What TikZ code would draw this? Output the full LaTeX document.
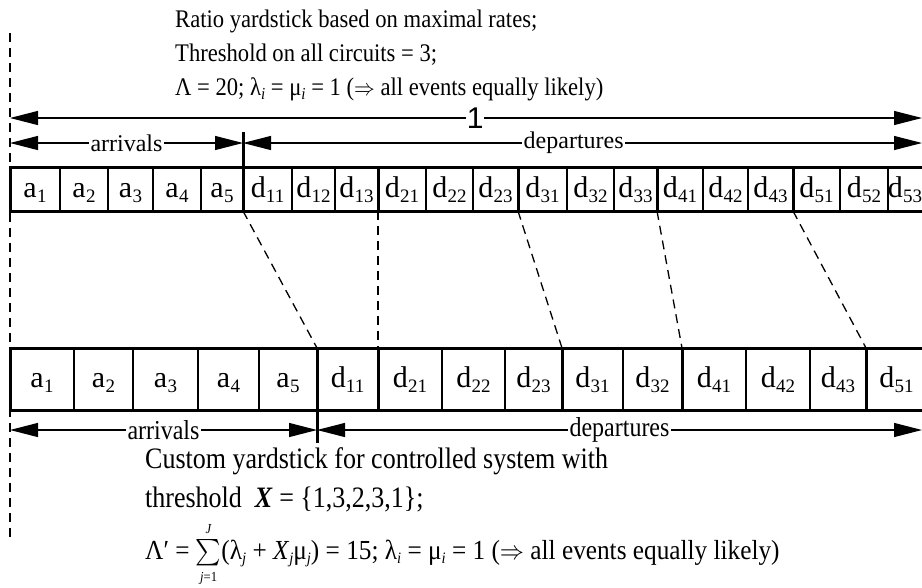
\documentclass[tikz,border=0pt]{standalone}
\usepackage{amsmath}
\usepackage{exscale}
\usepackage{graphicx}
\usepackage{fontspec}
\setmainfont{Liberation Serif}
\newfontfamily\sansf{Liberation Sans}
\usetikzlibrary{arrows.meta}
\newcommand\cl[2]{#1\kern0.2pt\raisebox{-5.5pt}{\fontsize{19}{19}\selectfont #2}}
\newcommand\lsub[1]{\raisebox{-4pt}{\fontsize{15}{15}\selectfont\textit{#1}}}
\newcommand\vst[1]{\scalebox{1}[1.14]{#1}}
\newcommand\tst[1]{\scalebox{1}[1.12]{#1}}
\tikzset{
  thickln/.style={line width=3pt},
  thinln/.style={line width=1.1pt},
  dashln/.style={line width=1.3pt, dash pattern=on 9pt off 6pt},
  dimarrow/.style={line width=1.2pt, {Triangle[length=28pt,width=14pt]}-{Triangle[length=28pt,width=14pt]}},
  lbl/.style={fill=white, inner sep=1.5pt, font=\fontsize{24}{24}\selectfont},
  cell/.style={font=\fontsize{30}{30}\selectfont, inner sep=0pt, anchor=base},
  txt/.style={anchor=base west, inner sep=0pt, font=\fontsize{26}{30}\selectfont},
  ttxt/.style={anchor=base west, inner sep=0pt, font=\fontsize{22.6}{26}\selectfont}
}
\begin{document}
\begin{tikzpicture}[x=1pt,y=-1pt]
\useasboundingbox (0,0) rectangle (922,587);
\clip (0,0) rectangle (922,587);

% top caption
\node[ttxt] (c1) at (175,27) {\tst{Ratio yardstick based on maximal rates;}};
\node[ttxt] (c2) at (175,61) {\tst{Threshold on all circuits = 3;}};
\node[ttxt] (c3) at (175,95) {\tst{Λ = 20; λ\lsub{i} = μ\lsub{i} = 1 (\(\Rightarrow\) all events equally likely)}};

% top row cells
\foreach \xa/\xb/\lab in {10/60/{\cl{a}{1}},60/108/{\cl{a}{2}},108/153/{\cl{a}{3}},153/201/{\cl{a}{4}},201/243/{\cl{a}{5}},243/292/{\cl{d}{11}},292/335/{\cl{d}{12}},335/378/{\cl{d}{13}},378/426/{\cl{d}{21}},426/473/{\cl{d}{22}},473/518/{\cl{d}{23}},518/567/{\cl{d}{31}},567/614/{\cl{d}{32}},614/657/{\cl{d}{33}},657/703/{\cl{d}{41}},703/748/{\cl{d}{42}},748/793/{\cl{d}{43}},793/840/{\cl{d}{51}},840/888/{\cl{d}{52}},888/922/{\cl{d}{53}}}
  \node[cell] (t\xa) at ({(\xa+\xb)/2},197) {\lab};
\foreach \x in {60,108,153,201,292,335,426,473,567,614,703,748,840,888}
  \draw[thinln] (\x,167) -- (\x,211);
\foreach \x in {378,518,657,793}
  \draw[thickln] (\x,167) -- (\x,211);
\draw[thickln] (243,132) -- (243,211);
\draw[thickln, line join=miter] (924,167) -- (10,167) -- (10,211) -- (924,211);

% bottom row cells
\foreach \xa/\xb/\lab in {10/74/{\cl{a}{1}},74/133/{\cl{a}{2}},133/198/{\cl{a}{3}},198/259/{\cl{a}{4}},259/317/{\cl{a}{5}},317/378/{\cl{d}{11}},378/442/{\cl{d}{21}},442/505/{\cl{d}{22}},505/562/{\cl{d}{23}},562/623/{\cl{d}{31}},623/682/{\cl{d}{32}},682/746/{\cl{d}{41}},746/810/{\cl{d}{42}},810/866/{\cl{d}{43}},866/927/{\cl{d}{51}}}
  \node[cell] (b\xa) at ({(\xa+\xb)/2},387) {\lab};
\foreach \x in {74,133,198,259,442,505,623,746,810}
  \draw[thinln] (\x,348) -- (\x,410);
\foreach \x in {378,562,682,866}
  \draw[thickln] (\x,348) -- (\x,410);
\draw[thickln] (317,348) -- (317,443);
\draw[thickln, line join=miter] (924,348) -- (10,348) -- (10,410) -- (924,410);

% connector end points
\coordinate (vtop) at (10,33);
\coordinate (vbot) at (10,540);
\foreach \n/\xt/\xb in {p1/243/317,p2/378/378,p3/518/562,p4/657/682,p5/793/866}{
  \coordinate (\n t) at (\xt,211);
  \coordinate (\n b) at (\xb,348);
}
\draw[dashln] (vtop) -- (vbot);
\foreach \n in {p1,p2,p3,p4,p5}
  \draw[dashln] (\n t) -- (\n b);

% dimension arrows
\coordinate (u1) at (10,118);  \coordinate (u2) at (922,118);
\coordinate (r1) at (10,143);  \coordinate (r2) at (243,143); \coordinate (r3) at (922,143);
\coordinate (s1) at (10,430);  \coordinate (s2) at (317,430); \coordinate (s3) at (922,430);
\draw[dimarrow] (u1) -- node[lbl, pos=0.51, inner sep=1pt, font=\sansf\fontsize{30}{30}\selectfont] {1} (u2);
\draw[dimarrow] (r1) -- node[lbl] {arrivals} (r2);
\draw[dimarrow] (r2) -- node[lbl, pos=0.487] {departures} (r3);
\draw[dimarrow] (s1) -- node[lbl] {\vst{arrivals}} (s2);
\draw[dimarrow] (s2) -- node[lbl] {\vst{departures}} (s3);

% bottom caption
\node[txt] (e1) at (145,468) {\vst{Custom yardstick for controlled system with}};
\node[txt] (e2) at (145,507) {\vst{threshold\ \ \textbf{\textit{X}} = \{1,3,2,3,1\};}};
\node[txt] (e3) at (145,559) {\scalebox{0.972}[1.06]{Λ′ = \(\sum\limits_{\mbox{\fontsize{13}{13}\selectfont\textit{j}=1}}^{\mbox{\fontsize{13}{13}\selectfont\textit{J}}}\)(λ\lsub{j} + \textit{X}\lsub{j}μ\lsub{j}) = 15; λ\lsub{i} = μ\lsub{i} = 1 (\(\Rightarrow\) all events equally likely)}};
\end{tikzpicture}
\end{document}
